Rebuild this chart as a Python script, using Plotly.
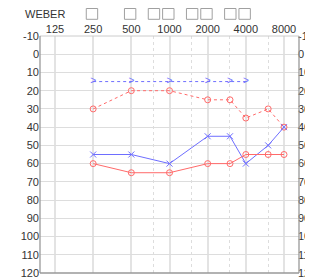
import math
import plotly.graph_objects as go

# ---- data ----
tick_freqs = [125, 250, 500, 1000, 2000, 4000, 8000]
tick_labels = ["125", "250", "500", "1000", "2000", "4000", "8000"]
mid_freqs = [750, 1500, 3000, 6000]
db_ticks = list(range(-10, 121, 10))
db_labels = [str(v) for v in db_ticks]

masked_freqs = [250, 500, 1000, 2000, 3000, 4000]
masked_vals = [15, 15, 15, 15, 15, 15]

freqs = [250, 500, 1000, 2000, 3000, 4000, 6000, 8000]
red_dotted = [30, 20, 20, 25, 25, 35, 30, 40]
blue_solid = [55, 55, 60, 45, 45, 60, 50, 40]
red_solid = [60, 65, 65, 60, 60, 55, 55, 55]

weber_freqs = [250, 500, 750, 1000, 1500, 2000, 3000, 4000]

BLUE = "#6e6eff"
RED = "#ff6a6a"
FONT = "Liberation Sans, Arial, sans-serif"

fig = go.Figure()

fig.add_trace(go.Scatter(x=masked_freqs, y=masked_vals, mode="lines+text",
                         text=[">"] * len(masked_freqs), textposition="middle center",
                         textfont=dict(color=BLUE, size=10, family=FONT),
                         line=dict(color=BLUE, width=1, dash="dot"), showlegend=False))
fig.add_trace(go.Scatter(x=freqs, y=red_dotted, mode="lines+markers",
                         line=dict(color=RED, width=1, dash="dot"),
                         marker=dict(symbol="circle-open", size=6, color=RED, line=dict(width=1, color=RED)),
                         showlegend=False))
fig.add_trace(go.Scatter(x=freqs, y=blue_solid, mode="lines+markers",
                         line=dict(color=BLUE, width=1),
                         marker=dict(symbol="x-thin-open", size=6, color=BLUE, line=dict(width=1, color=BLUE)),
                         showlegend=False))
fig.add_trace(go.Scatter(x=freqs, y=red_solid, mode="lines+markers",
                         line=dict(color=RED, width=1),
                         marker=dict(symbol="circle-open", size=6, color=RED, line=dict(width=1, color=RED)),
                         showlegend=False))
# invisible trace for the right axis
fig.add_trace(go.Scatter(x=[1000], y=[50], yaxis="y2", mode="markers",
                         marker=dict(opacity=0), showlegend=False, hoverinfo="skip"))

oct_px = 38.17
pad = 15 / oct_px * math.log10(2)
xr = [math.log10(125) - pad, math.log10(8000) + pad]

# page body has an 8px margin; target plot area in window pixels: 40..299 x 36..273
OFF = 8
FW, FH = 313 - OFF, 280 - OFF
L, R, T, B = 40 - OFF, 299 - OFF, 36 - OFF, 273 - OFF
W, H = R - L, B - T

shapes = []
for f in weber_freqs:
    cx = L + 15 + oct_px * math.log2(f / 125)
    if f in (750, 1500, 3000):
        cx += 0.3
    else:
        cx -= 1.2
    shapes.append(dict(type="rect", xref="paper", yref="paper",
                       x0=(cx - 5.7 - L) / W, x1=(cx + 5.7 - L) / W,
                       y0=(B - (19.3 - OFF)) / H, y1=(B - (8.5 - OFF)) / H,
                       line=dict(color="#a0a0a0", width=1), fillcolor="rgba(0,0,0,0)"))
shapes.append(dict(type="line", xref="paper", yref="paper", x0=0, x1=1, y0=1, y1=1,
                   line=dict(color="#cccccc", width=1)))
for (x0, y0, x1, y1) in [(0, 0, 0, 1), (0, 0, 1, 0), (1, 0, 1, 1)]:
    shapes.append(dict(type="line", xref="paper", yref="paper", x0=x0, x1=x1, y0=y0, y1=y1,
                       line=dict(color="#999999", width=1.3)))

fig.update_layout(
    width=FW, height=FH,
    margin=dict(l=L, r=FW - R, t=T, b=FH - B, pad=0),
    paper_bgcolor="white", plot_bgcolor="white",
    font=dict(family=FONT, size=11, color="#333333"),
    xaxis=dict(type="log", range=xr, side="top", tickvals=tick_freqs, ticktext=tick_labels,
               showgrid=True, gridcolor="#e3e3e3", gridwidth=2, zeroline=False,
               ticks="", showline=False, automargin=False,
               minor=dict(tickvals=mid_freqs, showgrid=True, gridcolor="#dddddd",
                          griddash="dot", gridwidth=1, ticks="")),
    yaxis=dict(range=[120, -10], tickvals=db_ticks, ticktext=db_labels, showgrid=True,
               gridcolor="#dddddd", gridwidth=1, zeroline=False, ticks="", showline=False,
               automargin=False),
    yaxis2=dict(range=[120, -10], tickvals=db_ticks, ticktext=db_labels, overlaying="y",
                side="right", showgrid=False, zeroline=False, ticks="", showline=False,
                automargin=False, ticklabelstandoff=-2),
    shapes=shapes,
    annotations=[dict(text="WEBER", xref="paper", yref="paper",
                      x=(23 - OFF - L) / W, y=(B - (14 - OFF)) / H,
                      xanchor="left", yanchor="middle", showarrow=False,
                      font=dict(size=11, color="#333333", family=FONT))],
)

fig.write_html("out.html")
